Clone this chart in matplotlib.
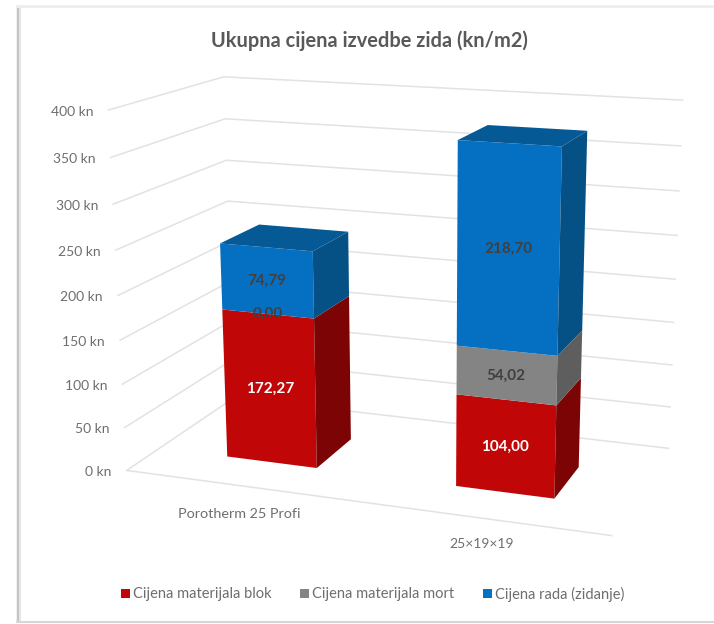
import numpy as np
import matplotlib
matplotlib.use('Agg')
import matplotlib.pyplot as plt
from matplotlib.patches import Polygon, Rectangle

plt.rcParams['font.family'] = ['Lato', 'DejaVu Sans']

# Data
categories = ['Porotherm 25 Profi', '25×19×19']
series_names = ['Cijena materijala blok', 'Cijena materijala mort', 'Cijena rada (zidanje)']
blok = [172.27, 104.00]
mort = [0.00, 54.02]
rad = [74.79, 218.70]
y_ticks = [0, 50, 100, 150, 200, 250, 300, 350, 400]
y_tick_labels = ['0 kn', '50 kn', '100 kn', '150 kn', '200 kn', '250 kn', '300 kn', '350 kn', '400 kn']

series_values = [blok, mort, rad]
front_colors = ['#C00606', '#848484', '#0570C2']
side_colors = ['#7C0404', '#5E5E5E', '#055085']
label_colors = ['#FFFFFF', '#404040', '#404040']
lid_color = '#055A96'

# Fit a camera from the corners of the chart box: (x, value, depth) -> pixels
box_world = np.array([
    [0, 400, 0], [0, 0, 0], [1, 0, 0],
    [0, 400, 1], [0, 0, 1], [1, 400, 1], [1, 0, 1],
], dtype=float)
box_px = np.array([
    [110, 110], [125, 471], [612, 535],
    [222, 77], [236, 397], [683, 100], [668, 449],
], dtype=float)

rows = []
rhs = []
for (wx, wy, wz), (px, py) in zip(box_world, box_px):
    rows.append([wx, wy, wz, 1, 0, 0, 0, 0, -px * wx, -px * wy, -px * wz])
    rhs.append(px)
    rows.append([0, 0, 0, 0, wx, wy, wz, 1, -py * wx, -py * wy, -py * wz])
    rhs.append(py)
cam = np.linalg.lstsq(np.array(rows), np.array(rhs), rcond=None)[0]
cam = np.append(cam, 1).reshape(3, 4)


def project(x, y, z):
    u = cam @ np.array([x, y, z, 1.0])
    return u[0] / u[2], u[1] / u[2]


fig = plt.figure(figsize=(7.14, 6.24), dpi=100)
ax = fig.add_axes([0, 0, 1, 1])
ax.set_xlim(0, 714)
ax.set_ylim(624, 0)
ax.axis('off')

# Frame of the screenshot: soft shadow left, thin lines top and bottom
ax.plot([17.5, 17.5], [5, 621], color='#C4C4C4', lw=2.5, solid_capstyle='butt')
ax.plot([19.5, 19.5], [5, 621], color='#E6E6E6', lw=1.5, solid_capstyle='butt')
ax.plot([16, 714], [5.5, 5.5], color='#EEEEEE', lw=2, solid_capstyle='butt')
ax.plot([16, 714], [621.5, 621.5], color='#D6D6D6', lw=1.5, solid_capstyle='butt')

# Gridlines on the walls
grid = '#E2E2E2'
for t, lab in zip(y_ticks, y_tick_labels):
    p0 = project(0, t, 0)
    p1 = project(0, t, 1)
    p2 = project(1, t, 1)
    ax.plot([p0[0], p1[0], p2[0]], [p0[1], p1[1], p2[1]], color=grid, lw=1.1, zorder=1)
    ax.text(p0[0] - 15, p0[1] + 1.5, lab, ha='right', va='center', fontsize=10, color='#6E6E6E')
p0 = project(0, 0, 0)
p1 = project(1, 0, 0)
ax.plot([p0[0], p1[0]], [p0[1], p1[1]], color=grid, lw=1.1, zorder=1)

# Bars, stacked
bar_w = 0.2
bar_z = (0.285, 0.655)
centers = [0.255, 0.752]
for i, c in enumerate(centers):
    x0, x1 = c - bar_w / 2, c + bar_w / 2
    base = 0
    for s, vals in enumerate(series_values):
        top = base + vals[i]
        front = [project(x0, base, bar_z[0]), project(x1, base, bar_z[0]),
                 project(x1, top, bar_z[0]), project(x0, top, bar_z[0])]
        side = [project(x1, base, bar_z[0]), project(x1, base, bar_z[1]),
                project(x1, top, bar_z[1]), project(x1, top, bar_z[0])]
        ax.add_patch(Polygon(front, fc=front_colors[s], ec='none', zorder=3))
        ax.add_patch(Polygon(side, fc=side_colors[s], ec='none', zorder=3))
        # data label at the middle of the front face
        mx, my = project(c, base + vals[i] / 2, bar_z[0])
        ax.text(mx, my, f'{vals[i]:.2f}'.replace('.', ','), ha='center', va='center',
                fontsize=11, fontweight='bold', color=label_colors[s], zorder=6)
        base = top
    lid = [project(x0, base, bar_z[0]), project(x1, base, bar_z[0]),
           project(x1, base, bar_z[1]), project(x0, base, bar_z[1])]
    ax.add_patch(Polygon(lid, fc=lid_color, ec='none', zorder=3))

# Category labels
ax.text(239, 514, categories[0], ha='center', va='center', fontsize=10.4, color='#6E6E6E')
ax.text(481.5, 543.5, categories[1], ha='center', va='center', fontsize=10, color='#6E6E6E')

# Title
ax.text(369.5, 41, 'Ukupna cijena izvedbe zida (kn/m2)', ha='center', va='center',
        fontsize=14.4, fontweight='bold', color='#595959')

# Legend
for name, col, bx in zip(series_names, front_colors, [121, 300, 483]):
    ax.add_patch(Rectangle((bx, 589), 8.5, 8.5, fc=col, ec='none'))
    ax.text(bx + 12, 594, name, ha='left', va='center', fontsize=10.5, color='#6E6E6E')

fig.savefig('out.png', dpi=100)
